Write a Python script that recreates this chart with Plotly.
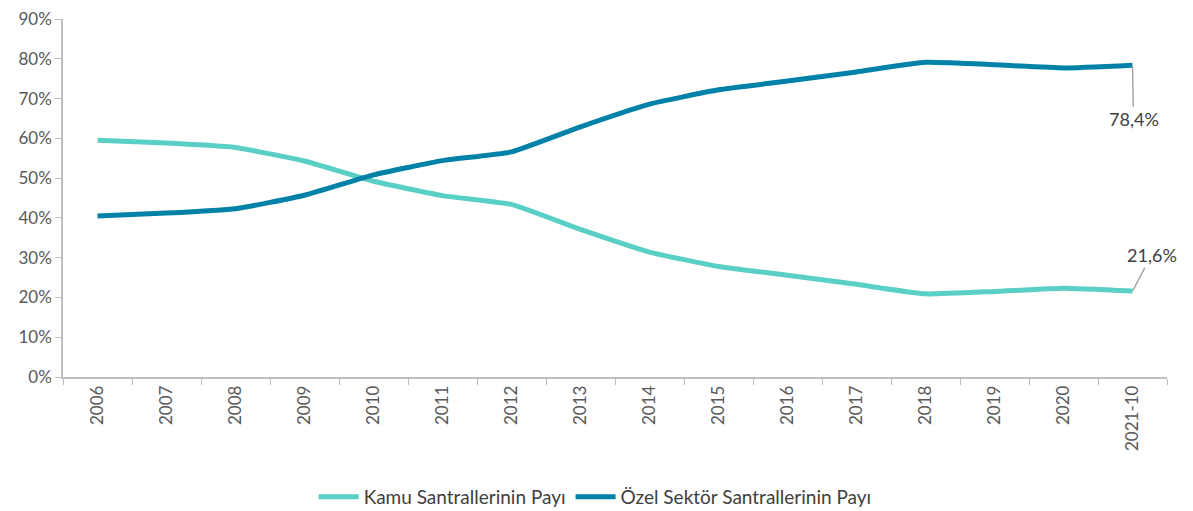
import plotly.graph_objects as go

categories = ["2006", "2007", "2008", "2009", "2010", "2011", "2012", "2013",
              "2014", "2015", "2016", "2017", "2018", "2019", "2020", "2021-10"]
kamu = [59.5, 58.8, 57.7, 54.3, 49.2, 45.6, 43.4, 37.1, 31.4, 27.8, 25.6, 23.3, 20.9, 21.5, 22.3, 21.6]
ozel = [40.5, 41.2, 42.3, 45.7, 50.8, 54.4, 56.6, 62.9, 68.6, 72.2, 74.4, 76.7, 79.1, 78.5, 77.7, 78.4]
y_ticks = [0, 10, 20, 30, 40, 50, 60, 70, 80, 90]
y_labels = [f"{v}%" for v in y_ticks]

FONT = "Lato"
fig = go.Figure()
fig.add_trace(go.Scatter(x=categories, y=kamu, mode="lines", name="Kamu Santrallerinin Payı",
                         line=dict(color="#5ACFC6", width=5, shape="spline", smoothing=0.4)))
fig.add_trace(go.Scatter(x=categories, y=ozel, mode="lines", name="Özel Sektör Santrallerinin Payı",
                         line=dict(color="#0081A8", width=5, shape="spline", smoothing=0.4)))

fig.add_annotation(x=categories[-1], y=ozel[-1], text="78,4%", showarrow=True,
                   arrowhead=0, arrowcolor="#A6A6A6", arrowwidth=1.5, ax=1, ay=54,
                   font=dict(family=FONT, size=18, color="#404040"))
fig.add_annotation(x=categories[-1], y=kamu[-1], text="21,6%", showarrow=True,
                   arrowhead=0, arrowcolor="#A6A6A6", arrowwidth=1.5, ax=19, ay=-36,
                   font=dict(family=FONT, size=18, color="#404040"))

fig.update_layout(
    width=1185, height=503,
    margin=dict(l=55, r=26, t=11, b=134, autoexpand=False),
    plot_bgcolor="white", paper_bgcolor="white",
    font=dict(family=FONT, size=17, color="#595959"),
    showlegend=True,
    legend=dict(orientation="h", x=0.482, xanchor="center", y=-0.335, yanchor="middle",
                font=dict(family=FONT, size=19, color="#404040"), itemwidth=40),
    xaxis=dict(type="category", range=[-0.5, 15.5], tickson="boundaries", ticks="outside",
               ticklen=6, tickcolor="#BFBFBF", showline=True, linecolor="#BFBFBF", linewidth=1.5,
               showgrid=False, tickangle=-90, tickfont=dict(size=17, color="#595959")),
    yaxis=dict(range=[0, 90], tickvals=y_ticks, ticktext=y_labels, ticks="outside", ticklen=6,
               tickcolor="#BFBFBF", showline=True, linecolor="#BFBFBF", linewidth=1.5,
               showgrid=False, zeroline=False, ticklabeloverflow="allow",
               tickfont=dict(size=17, color="#595959")),
)
fig.write_html("out.html")
